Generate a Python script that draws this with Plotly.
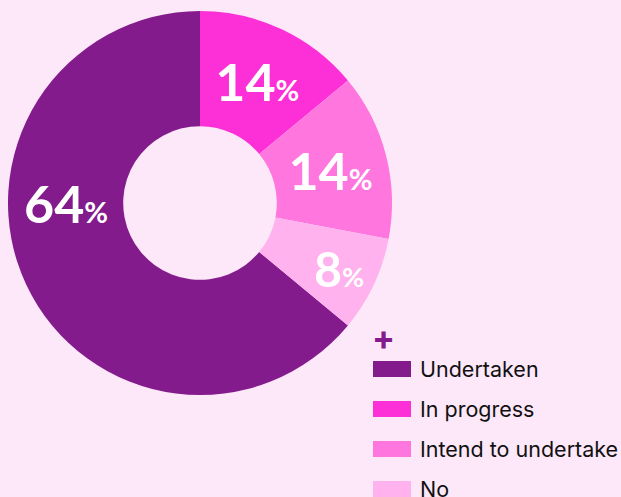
import plotly.graph_objects as go

labels = ["Undertaken", "In progress", "Intend to undertake", "No"]
values = [64, 14, 14, 8]
colors = ["#841b8c", "#fd2fd6", "#ff76de", "#ffb2ee"]
bg = "#fde8fa"

W, H = 621, 497
HOLE = 0.40
# pie domain (pixels): x 8..392, y 11..395 from top
dom_x = [8 / W, 392 / W]
dom_y = [1 - 395 / H, 1 - 11 / H]

pct_tpl = "{}<span style='font-size:29px'>%</span>"
texts = ["" if i == 0 else pct_tpl.format(v) for i, v in enumerate(values)]

fig = go.Figure()
fig.add_trace(go.Pie(
    labels=labels,
    values=values,
    text=texts,
    textinfo="text",
    sort=False,
    direction="clockwise",
    rotation=129.6,
    hole=HOLE,
    marker=dict(colors=colors, line=dict(width=0)),
    textposition="inside",
    insidetextorientation="horizontal",
    insidetextfont=dict(family="Lato", size=52, color="white", weight="bold"),
    showlegend=False,
    domain=dict(x=dom_x, y=dom_y),
    hoverinfo="label+percent",
))

# label of the large slice placed at the middle of the ring, 9 o'clock
cx = (dom_x[0] + dom_x[1]) / 2
cy = (dom_y[0] + dom_y[1]) / 2
r_out_x = (dom_x[1] - dom_x[0]) / 2
r_mid_x = r_out_x * (1 + HOLE) / 2
annotations = [dict(
    text=pct_tpl.format(values[0]), x=cx - r_mid_x, y=cy, xref="paper", yref="paper",
    showarrow=False, xanchor="center", yanchor="middle",
    font=dict(family="Lato", size=52, color="white", weight="bold"))]

# custom legend built from labels/colors
annotations.append(dict(
    text="<b>+</b>", x=383 / W, y=1 - 337 / H, xref="paper", yref="paper",
    showarrow=False, font=dict(family="Inter", size=34, color=colors[0]),
    xanchor="center", yanchor="middle"))
shapes = []
y0 = 369
gap = 40
for i, (lab, col) in enumerate(zip(labels, colors)):
    yc = y0 + i * gap
    shapes.append(dict(type="rect", xref="paper", yref="paper",
                       x0=373 / W, x1=411 / W,
                       y0=1 - (yc + 8) / H, y1=1 - (yc - 8) / H,
                       fillcolor=col, line=dict(width=0)))
    annotations.append(dict(text=lab, x=418 / W, y=1 - yc / H,
                            xref="paper", yref="paper", showarrow=False,
                            xanchor="left", yanchor="middle",
                            font=dict(family="Inter", size=21.5, color="#111111")))

fig.update_layout(
    width=W, height=H,
    margin=dict(l=0, r=0, t=0, b=0),
    paper_bgcolor=bg, plot_bgcolor=bg,
    annotations=annotations, shapes=shapes,
)
fig.write_html("out.html", config={"displayModeBar": False},
               post_script="document.body.style.margin='0';document.body.style.overflow='hidden';")
